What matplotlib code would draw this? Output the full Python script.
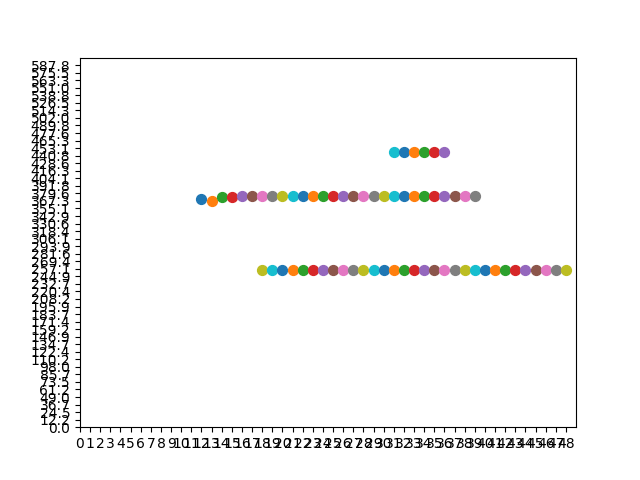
import matplotlib
matplotlib.use("Agg")
import matplotlib.pyplot as plt

# ================= data =================
# row 1 (middle band), x = 12..39
row1_x = [12, 13, 14, 15, 16, 17, 18, 19, 20, 21, 22, 23, 24, 25,
          26, 27, 28, 29, 30, 31, 32, 33, 34, 35, 36, 37, 38, 39]
row1_y = [369.7, 367.8, 373.0, 374.2, 375.9, 375.0, 374.6, 374.6, 374.6, 374.6,
          374.6, 374.6, 374.6, 374.6, 374.6, 374.6, 374.6, 374.6, 374.6, 374.6,
          374.6, 374.6, 374.6, 374.6, 374.6, 374.6, 374.6, 374.6]

# row 2 (lower band), x = 18..48
row2_x = [18, 19, 20, 21, 22, 23, 24, 25, 26, 27, 28, 29, 30, 31, 32, 33,
          34, 35, 36, 37, 38, 39, 40, 41, 42, 43, 44, 45, 46, 47, 48]
row2_y = [254.4, 254.4, 254.4, 254.4, 254.4, 254.4, 254.4, 254.4, 254.4, 254.4,
          254.4, 254.4, 254.4, 254.4, 254.4, 254.4, 254.4, 254.4, 254.4, 254.4,
          254.4, 254.4, 254.4, 254.4, 254.4, 254.4, 254.4, 254.4, 254.4, 254.4,
          254.4]

# row 3 (upper band), x = 31..36
row3_x = [31, 32, 33, 34, 35, 36]
row3_y = [446.3, 446.3, 446.3, 446.3, 446.3, 446.3]

x_ticks = list(range(49))
y_tick_labels = ["0.0", "12.2", "24.5", "36.7", "49.0", "61.2", "73.5", "85.7",
                 "98.0", "110.2", "122.4", "134.7", "146.9", "159.2", "171.4",
                 "183.7", "195.9", "208.2", "220.4", "232.7", "244.9", "257.1",
                 "269.4", "281.6", "293.9", "306.1", "318.4", "330.6", "342.9",
                 "355.1", "367.3", "379.6", "391.8", "404.1", "416.3", "428.6",
                 "440.8", "453.1", "465.3", "477.6", "489.8", "502.0", "514.3",
                 "526.5", "538.8", "551.0", "563.3", "575.5", "587.8"]
# ========================================

fig, ax = plt.subplots(figsize=(6.4, 4.8), dpi=100)

# one scatter call per point so the colour cycle keeps running
for xs, ys in [(row1_x, row1_y), (row2_x, row2_y), (row3_x, row3_y)]:
    for x, y in zip(xs, ys):
        ax.scatter(x, y, s=50)

y_ticks = [i * 600 / 49 for i in range(len(y_tick_labels))]
ax.set_xticks(x_ticks)
ax.set_yticks(y_ticks)
ax.set_yticklabels(y_tick_labels)
ax.set_xlim(0, 49)
ax.set_ylim(0, 600)

plt.savefig("out.png", dpi=100)
